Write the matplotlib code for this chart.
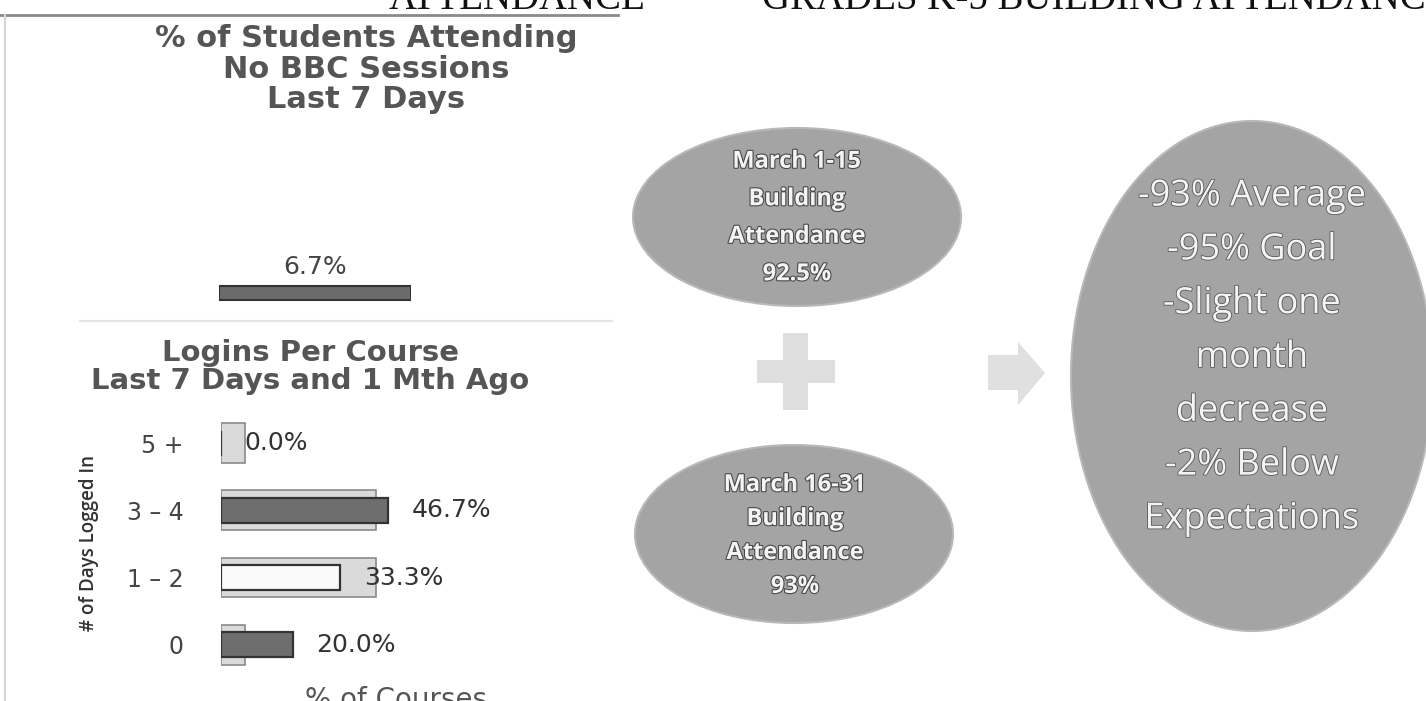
import matplotlib
matplotlib.use("Agg")
import matplotlib.pyplot as plt
from matplotlib.patches import Ellipse, Polygon
import matplotlib.patheffects as pe

# ---- data ----
header_left = 'ATTENDANCE'
header_right = 'GRADES K-5 BUILDING ATTENDANCE'

no_bbc_title = '% of Students Attending\nNo BBC Sessions\nLast 7 Days'
no_bbc_pct = [6.7]

logins_title = 'Logins Per Course\nLast 7 Days and 1 Mth Ago'
login_cats = ['0', '1 – 2', '3 – 4', '5 +']
logins_last7 = [20.0, 33.3, 46.7, 0.0]
logins_1mth = [6.7, 43.3, 43.3, 6.7]

period1 = 'March 1-15'
attend1 = '92.5%'
period2 = 'March 16-31'
attend2 = '93%'
summary = ['-93% Average', '-95% Goal', '-Slight one', 'month',
           'decrease', '-2% Below', 'Expectations']

W, H = 1426, 701
fig = plt.figure(figsize=(W / 100, H / 100), dpi=100)


def px_axes(left, top, width, height):
	ax = fig.add_axes([left / W, 1 - (top + height) / H, width / W, height / H])
	ax.patch.set_alpha(0)
	return ax


# background layer in pixel units for the page decorations
bg = fig.add_axes([0, 0, 1, 1])
bg.set_xlim(0, W)
bg.set_ylim(H, 0)
bg.axis('off')

# page header, cut off at the top of the scan
bg.text(645, 9, header_left, ha='right', va='baseline', fontsize=28,
        family='Liberation Serif', color='#111111')
bg.text(762, 9, header_right, ha='left', va='baseline', fontsize=28,
        family='Liberation Serif', color='#111111')

# frame lines of the left panel
bg.plot([0, 618], [15, 15], color='#8a8a8a', lw=2)
bg.plot([5, 5], [15, H], color='#d6d6d6', lw=1.5)
bg.plot([80, 612], [321, 321], color='#e4e4e4', lw=1.5)

# ---- top chart: no BBC sessions ----
fig.text(366 / W, 1 - 69 / H, no_bbc_title, ha='center', va='center',
         fontsize=22, fontweight='bold', color='#555555', linespacing=1.05,
         family='DejaVu Sans')

ax1 = px_axes(219, 263, 192, 60)
ax1.barh([0], no_bbc_pct, height=0.47, color='#6b6b6b', edgecolor='#333333', lw=1.5)
ax1.set_xlim(0, no_bbc_pct[0])
ax1.set_ylim(-1, 1)
ax1.text(no_bbc_pct[0] / 2, 0.87, f'{no_bbc_pct[0]:.1f}%', ha='center', va='center',
         fontsize=18, color='#444444', clip_on=False)
ax1.axis('off')

# ---- lower chart: logins per course ----
fig.text(310 / W, 1 - 367 / H, logins_title, ha='center', va='center',
         fontsize=21, fontweight='bold', color='#555555', linespacing=1.0,
         family='DejaVu Sans')

ax2 = px_axes(221, 400, 300, 290)
y = list(range(len(login_cats)))
ax2.barh(y, logins_1mth, height=0.59, color='#dadada', edgecolor='#8a8a8a', lw=1.2)
cur = ax2.barh(y, logins_last7, height=0.37,
               color=['#6e6e6e', '#fafafa', '#6e6e6e', '#6e6e6e'],
               edgecolor='#333333', lw=1.6)
ax2.bar_label(cur, labels=[f'{v:.1f}%' for v in logins_last7], padding=17,
              fontsize=18, color='#333333')
ax2.set_xlim(0, 300 / 3.58)
ax2.set_ylim(-0.67, 3.64)
ax2.set_yticks(y)
ax2.set_yticklabels(login_cats, fontsize=17, color='#444444')
ax2.tick_params(axis='y', length=0, pad=27)
ax2.set_xticks([])
for s in ax2.spines.values():
	s.set_visible(False)
ax2.set_ylabel('# of Days Logged In', fontsize=13.5, color='#333333',
               family='Open Sans', fontweight='semibold')
ax2.yaxis.set_label_coords((99 - 221) / 300, (690 - 543) / 290)
ax2.set_xlabel('% of Courses', fontsize=20, color='#555555')
ax2.xaxis.set_label_coords((396 - 221) / 300, (690 - 686) / 290)

# ---- right side: attendance bubbles ----
txt_fx = [pe.withStroke(linewidth=1.6, foreground='#4a4a4a')]

bg.add_patch(Ellipse((797, 217), 328, 178, facecolor='#a4a4a4', edgecolor='#b8b8b8', lw=1.5))
bg.add_patch(Ellipse((794, 534), 318, 178, facecolor='#a4a4a4', edgecolor='#b8b8b8', lw=1.5))
bg.add_patch(Ellipse((1252, 376), 362, 510, facecolor='#a4a4a4', edgecolor='#b8b8b8', lw=1.5))

bg.text(797, 218, f'{period1}\nBuilding\nAttendance\n{attend1}', ha='center', va='center',
        fontsize=17, fontweight='bold', family='Open Sans', color='#f4f4f4',
        linespacing=1.75, path_effects=txt_fx)
bg.text(795, 536, f'{period2}\nBuilding\nAttendance\n{attend2}', ha='center', va='center',
        fontsize=17, fontweight='bold', family='Open Sans', color='#f4f4f4',
        linespacing=1.55, path_effects=txt_fx)
bg.text(1252, 358, '\n'.join(summary), ha='center', va='center',
        fontsize=26, family='Open Sans', color='#f4f4f4',
        linespacing=1.66, path_effects=[pe.withStroke(linewidth=1.2, foreground='#5a5a5a')])

# plus sign and arrow
plus = [(783, 333), (808, 333), (808, 360), (835, 360), (835, 383), (808, 383),
        (808, 410), (783, 410), (783, 383), (757, 383), (757, 360), (783, 360)]
bg.add_patch(Polygon(plus, closed=True, facecolor='#dedede', edgecolor='none'))
arrow = [(988, 355), (1018, 355), (1018, 342), (1045, 373), (1018, 405),
         (1018, 390), (988, 390)]
bg.add_patch(Polygon(arrow, closed=True, facecolor='#e0e0e0', edgecolor='none'))

for a in (ax1, ax2):
	a.set_zorder(2)

fig.savefig('out.png', dpi=100)
